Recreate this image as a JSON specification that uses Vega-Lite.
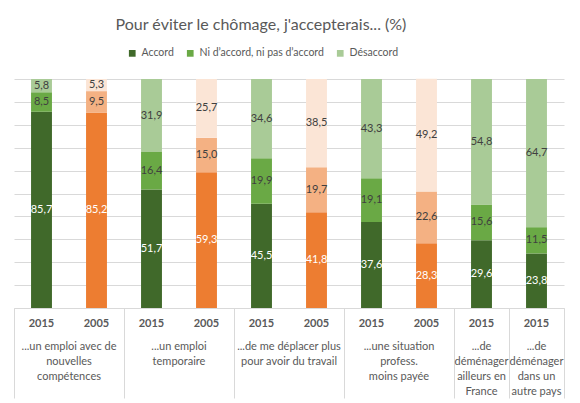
{
  "$schema": "https://vega.github.io/schema/vega-lite/v6.json",
  "width": 550,
  "height": 229,
  "autosize": {"type": "none"},
  "padding": {"left": 14, "top": 79, "right": 16, "bottom": 95},
  "background": "white",
  "title": {"text": "Pour éviter le chômage, j'accepterais... (%)", "fontSize": 16, "fontWeight": "normal", "color": "#595959", "anchor": "middle", "dx": -28, "offset": 15},
  "config": {
    "font": "Lato",
    "view": {"stroke": null},
    "locale": {"number": {"decimal": ",", "thousands": " ", "grouping": [3], "currency": ["", " €"]}}
  },
  "data": {"values": [
    {"barre": "2015|...un emploi avec de\nnouvelles\ncompétences", "annee": "2015", "reponse": "Accord", "ordre": 1, "valeur": 85.7},
    {"barre": "2015|...un emploi avec de\nnouvelles\ncompétences", "annee": "2015", "reponse": "Ni d’accord, ni pas d’accord", "ordre": 2, "valeur": 8.5},
    {"barre": "2015|...un emploi avec de\nnouvelles\ncompétences", "annee": "2015", "reponse": "Désaccord", "ordre": 3, "valeur": 5.8},
    {"barre": "2005|...un emploi avec de\nnouvelles\ncompétences", "annee": "2005", "reponse": "Accord", "ordre": 1, "valeur": 85.2},
    {"barre": "2005|...un emploi avec de\nnouvelles\ncompétences", "annee": "2005", "reponse": "Ni d’accord, ni pas d’accord", "ordre": 2, "valeur": 9.5},
    {"barre": "2005|...un emploi avec de\nnouvelles\ncompétences", "annee": "2005", "reponse": "Désaccord", "ordre": 3, "valeur": 5.3},
    {"barre": "2015|...un emploi\ntemporaire", "annee": "2015", "reponse": "Accord", "ordre": 1, "valeur": 51.7},
    {"barre": "2015|...un emploi\ntemporaire", "annee": "2015", "reponse": "Ni d’accord, ni pas d’accord", "ordre": 2, "valeur": 16.4},
    {"barre": "2015|...un emploi\ntemporaire", "annee": "2015", "reponse": "Désaccord", "ordre": 3, "valeur": 31.9},
    {"barre": "2005|...un emploi\ntemporaire", "annee": "2005", "reponse": "Accord", "ordre": 1, "valeur": 59.3},
    {"barre": "2005|...un emploi\ntemporaire", "annee": "2005", "reponse": "Ni d’accord, ni pas d’accord", "ordre": 2, "valeur": 15.0},
    {"barre": "2005|...un emploi\ntemporaire", "annee": "2005", "reponse": "Désaccord", "ordre": 3, "valeur": 25.7},
    {"barre": "2015|...de me déplacer plus\npour avoir du travail", "annee": "2015", "reponse": "Accord", "ordre": 1, "valeur": 45.5},
    {"barre": "2015|...de me déplacer plus\npour avoir du travail", "annee": "2015", "reponse": "Ni d’accord, ni pas d’accord", "ordre": 2, "valeur": 19.9},
    {"barre": "2015|...de me déplacer plus\npour avoir du travail", "annee": "2015", "reponse": "Désaccord", "ordre": 3, "valeur": 34.6},
    {"barre": "2005|...de me déplacer plus\npour avoir du travail", "annee": "2005", "reponse": "Accord", "ordre": 1, "valeur": 41.8},
    {"barre": "2005|...de me déplacer plus\npour avoir du travail", "annee": "2005", "reponse": "Ni d’accord, ni pas d’accord", "ordre": 2, "valeur": 19.7},
    {"barre": "2005|...de me déplacer plus\npour avoir du travail", "annee": "2005", "reponse": "Désaccord", "ordre": 3, "valeur": 38.5},
    {"barre": "2015|...une situation\nprofess.\nmoins payée", "annee": "2015", "reponse": "Accord", "ordre": 1, "valeur": 37.6},
    {"barre": "2015|...une situation\nprofess.\nmoins payée", "annee": "2015", "reponse": "Ni d’accord, ni pas d’accord", "ordre": 2, "valeur": 19.1},
    {"barre": "2015|...une situation\nprofess.\nmoins payée", "annee": "2015", "reponse": "Désaccord", "ordre": 3, "valeur": 43.3},
    {"barre": "2005|...une situation\nprofess.\nmoins payée", "annee": "2005", "reponse": "Accord", "ordre": 1, "valeur": 28.3},
    {"barre": "2005|...une situation\nprofess.\nmoins payée", "annee": "2005", "reponse": "Ni d’accord, ni pas d’accord", "ordre": 2, "valeur": 22.6},
    {"barre": "2005|...une situation\nprofess.\nmoins payée", "annee": "2005", "reponse": "Désaccord", "ordre": 3, "valeur": 49.2},
    {"barre": "2015|...de\ndéménager\nailleurs en\nFrance", "annee": "2015", "reponse": "Accord", "ordre": 1, "valeur": 29.6},
    {"barre": "2015|...de\ndéménager\nailleurs en\nFrance", "annee": "2015", "reponse": "Ni d’accord, ni pas d’accord", "ordre": 2, "valeur": 15.6},
    {"barre": "2015|...de\ndéménager\nailleurs en\nFrance", "annee": "2015", "reponse": "Désaccord", "ordre": 3, "valeur": 54.8},
    {"barre": "2015|...de\ndéménager\ndans un\nautre pays", "annee": "2015", "reponse": "Accord", "ordre": 1, "valeur": 23.8},
    {"barre": "2015|...de\ndéménager\ndans un\nautre pays", "annee": "2015", "reponse": "Ni d’accord, ni pas d’accord", "ordre": 2, "valeur": 11.5},
    {"barre": "2015|...de\ndéménager\ndans un\nautre pays", "annee": "2015", "reponse": "Désaccord", "ordre": 3, "valeur": 64.7}
  ]},
  "layer": [
    {
      "mark": {"type": "bar", "width": {"band": 0.38}},
      "encoding": {
        "x": {"field": "barre", "type": "nominal", "sort": null, "scale": {"paddingInner": 0, "paddingOuter": 0},
          "axis": {"orient": "bottom", "title": null, "labelExpr": "split(datum.value, '|')[0]", "labelAngle": 0, "labelFontSize": 11, "labelFontWeight": "bold", "labelColor": "#595959", "labelPadding": 9, "labelBaseline": "top", "labelOverlap": false, "ticks": false, "domain": true, "domainColor": "#d9d9d9", "grid": false}},
        "y": {"field": "valeur", "type": "quantitative", "stack": "zero", "scale": {"domain": [0, 100], "nice": false},
          "axis": {"title": null, "labels": false, "ticks": false, "domain": false, "grid": true, "gridColor": "#d9d9d9", "tickCount": 10}},
        "order": {"field": "ordre", "type": "quantitative", "sort": "ascending"},
        "color": {"field": "reponse", "type": "nominal",
          "scale": {"domain": ["Accord", "Ni d’accord, ni pas d’accord", "Désaccord"], "range": ["#40692a", "#6aa945", "#a9cb97"]},
          "legend": {"orient": "none", "legendX": 113, "legendY": -31, "direction": "horizontal", "title": null, "symbolType": "square", "symbolSize": 45, "symbolOpacity": 1, "labelFontSize": 10.5, "labelColor": "#595959", "columnPadding": 11, "labelOffset": 4}},
        "opacity": {"condition": {"test": "datum.annee == '2015'", "value": 1}, "value": 0}
      }
    },
    {
      "mark": {"type": "bar", "width": {"band": 0.38}},
      "encoding": {
        "x": {"field": "barre", "type": "nominal", "sort": null, "scale": {"paddingInner": 0, "paddingOuter": 0},
          "axis": {"orient": "bottom", "title": null, "labels": false, "domain": false, "grid": false, "ticks": true, "tickBand": "extent", "tickSize": 90, "tickColor": "#d9d9d9",
            "tickOpacity": {"condition": {"test": "split(datum.value, '|')[0] == '2015' && indexof(domain('x'), '2005|' + split(datum.value, '|')[1]) >= 0", "value": 0}, "value": 1}}},
        "y": {"field": "valeur", "type": "quantitative", "stack": "zero"},
        "order": {"field": "ordre", "type": "quantitative", "sort": "ascending"},
        "color": {"field": "reponse", "type": "nominal",
          "scale": {"domain": ["Accord", "Ni d’accord, ni pas d’accord", "Désaccord"], "range": ["#ed7d31", "#f4b183", "#fbe5d6"]}, "legend": null},
        "opacity": {"condition": {"test": "datum.annee == '2005'", "value": 1}, "value": 0}
      }
    },
    {
      "mark": {"type": "text", "fontSize": 11, "baseline": "middle"},
      "encoding": {
        "x": {"field": "barre", "type": "nominal", "sort": null, "scale": {"paddingInner": 0, "paddingOuter": 0},
          "axis": {"orient": "bottom", "title": null, "labelExpr": "split(datum.value, '|')[0] == '2015' ? split(split(datum.value, '|')[1], '\\n') : ''",
            "labelOffset": {"condition": {"test": "indexof(domain('x'), '2005|' + split(datum.value, '|')[1]) >= 0", "value": 27.5}, "value": 0},
            "labelAngle": 0, "labelFontSize": 11, "labelColor": "#595959", "labelPadding": 32, "labelLineHeight": 15, "labelBaseline": "top", "labelOverlap": false, "labelLimit": 200, "ticks": false, "domain": false, "grid": false}},
        "y": {"field": "valeur", "type": "quantitative", "stack": "zero", "bandPosition": 0.5},
        "order": {"field": "ordre", "type": "quantitative", "sort": "ascending"},
        "color": {"field": "reponse", "type": "nominal",
          "scale": {"domain": ["Accord", "Ni d’accord, ni pas d’accord", "Désaccord"], "range": ["#ffffff", "#404040", "#404040"]}, "legend": null},
        "text": {"field": "valeur", "type": "quantitative", "format": ".1f"}
      }
    }
  ],
  "resolve": {"scale": {"color": "independent"}, "axis": {"x": "independent"}}
}
